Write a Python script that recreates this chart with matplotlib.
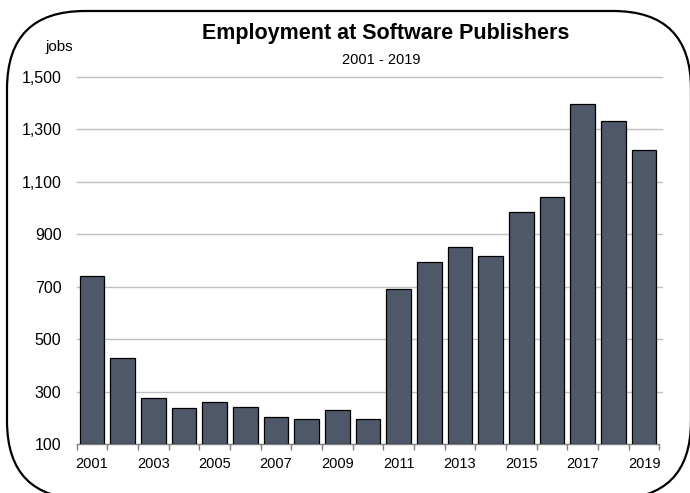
import matplotlib
matplotlib.use("Agg")
import matplotlib.pyplot as plt
from matplotlib.patches import FancyBboxPatch
import numpy as np

plt.rcParams['font.family'] = ['Liberation Sans', 'DejaVu Sans']

years = list(range(2001, 2020))
jobs = [741, 428, 274, 237, 261, 240, 202, 194, 230, 194,
        690, 794, 849, 818, 983, 1043, 1396, 1332, 1221]
y_ticks = [100, 300, 500, 700, 900, 1100, 1300, 1500]
title = "Employment at Software Publishers"
subtitle = "2001 - 2019"
unit_label = "jobs"

W, H = 690, 493
fig = plt.figure(figsize=(W / 100, H / 100), dpi=100)

# Rounded frame drawn in pixel coordinates on a full-figure overlay
frame_ax = fig.add_axes([0, 0, 1, 1], zorder=0)
frame_ax.set_xlim(0, W)
frame_ax.set_ylim(H, 0)
frame_ax.axis('off')
frame = FancyBboxPatch((7, 11), 684, 488,
                       boxstyle="round,pad=0,rounding_size=78",
                       facecolor='white', edgecolor='black', linewidth=1.6,
                       clip_on=False)
frame_ax.add_patch(frame)

# Plot area
left_px, right_px, top_px, bottom_px = 76.7, 659.4, 76.7, 444.0
ax = fig.add_axes([left_px / W, 1 - bottom_px / H,
                   (right_px - left_px) / W, (bottom_px - top_px) / H], zorder=1)
ax.patch.set_alpha(0)

x = np.arange(len(years))
ax.bar(x, [v - 100 for v in jobs], bottom=100, width=0.8,
       color='#4f5869', edgecolor='black', linewidth=0.9, zorder=3)

ax.set_xlim(-0.5, len(years) - 0.5)
ax.set_ylim(100, 1500)
ax.set_yticks(y_ticks)
ax.set_yticklabels([f"{v:,}" for v in y_ticks])

for v in y_ticks[1:]:
    ax.axhline(v, xmin=0, xmax=1.004, color='#c0c0c0', linewidth=1.0, zorder=1,
               clip_on=False)

ax.set_xticks(x[::2])
ax.set_xticklabels([str(y) for y in years[::2]])
ax.set_xticks(np.arange(-0.5, len(years), 1), minor=True)
ax.tick_params(axis='x', which='major', length=0, pad=9, labelsize=10.5)
ax.tick_params(axis='x', which='minor', length=4, width=1, color='#808080',
               direction='out')
ax.tick_params(axis='y', length=0, pad=11, labelsize=11.5)

for side in ['top', 'right', 'left']:
    ax.spines[side].set_visible(False)
ax.spines['bottom'].set_color('#808080')
ax.spines['bottom'].set_linewidth(1.0)

fig.text(386 / W, 1 - 33 / H, title, ha='center', va='center',
         fontsize=15.5, fontweight='bold')
fig.text(381 / W, 1 - 60 / H, subtitle, ha='center', va='center', fontsize=10.5)
fig.text(59 / W, 1 - 47 / H, unit_label, ha='center', va='center', fontsize=11)

fig.savefig('out.png', dpi=100)
